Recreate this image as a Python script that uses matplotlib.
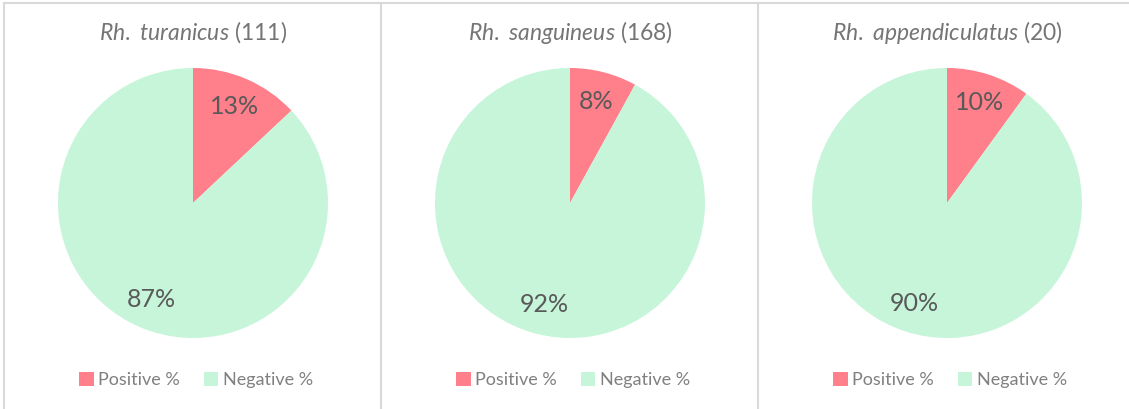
import matplotlib.pyplot as plt
from matplotlib.lines import Line2D
from matplotlib.patches import Patch

plt.rcParams['font.family'] = ['Lato', 'DejaVu Sans']
plt.rcParams['mathtext.fontset'] = 'custom'
plt.rcParams['mathtext.it'] = 'Lato:italic'
plt.rcParams['mathtext.rm'] = 'Lato'

# species, sample size and percent positive / negative
species = ['Rh.\\ turanicus', 'Rh.\\ sanguineus', 'Rh.\\ appendiculatus']
sample_sizes = [111, 168, 20]
positive = [13, 8, 10]
negative = [87, 92, 90]
labels = ['Positive %', 'Negative %']
colors = ['#FF7F8A', '#C6F5DA']

W, H = 1129, 409
fig = plt.figure(figsize=(W / 100, H / 100), dpi=100)

panel_w = 377
r = 135
for i in range(3):
    cx = 193 + i * panel_w
    cy = 203
    ax = fig.add_axes([(cx - r) / W, (H - cy - r) / H, 2 * r / W, 2 * r / H])
    wedges, texts, autotexts = ax.pie(
        [positive[i], negative[i]], colors=colors, startangle=90,
        counterclock=False, autopct='%1.0f%%', pctdistance=0.78,
        wedgeprops={'linewidth': 0},
        textprops={'color': '#595959', 'fontsize': 18})
    ax.set_xlim(-1, 1)
    ax.set_ylim(-1, 1)
    ax.axis('off')

    # title with italic species name
    fig.text(cx / W, (H - 32) / H,
             r'$\it{' + species[i] + r'}$' + ' (%d)' % sample_sizes[i],
             ha='center', va='center', fontsize=16.5, color='#757575')

    # legend under each pie
    handles = [Patch(facecolor=c, edgecolor='none') for c in colors]
    fig.legend(handles, labels, loc='center', ncol=2,
               bbox_to_anchor=((cx + 3) / W, (H - 380) / H),
               frameon=False, fontsize=13, labelcolor='#808080',
               handlelength=0.8, handleheight=0.8, handletextpad=0.25,
               columnspacing=1.3)

# panel borders
border = '#D9D9D9'
fig.add_artist(Line2D([4 / W, 1], [(H - 3) / H, (H - 3) / H], color=border, lw=1.5))
for x in [4, 4 + panel_w, 4 + 2 * panel_w]:
    fig.add_artist(Line2D([x / W, x / W], [0, (H - 3) / H], color=border, lw=1.5))

fig.savefig('out.png', dpi=100)
